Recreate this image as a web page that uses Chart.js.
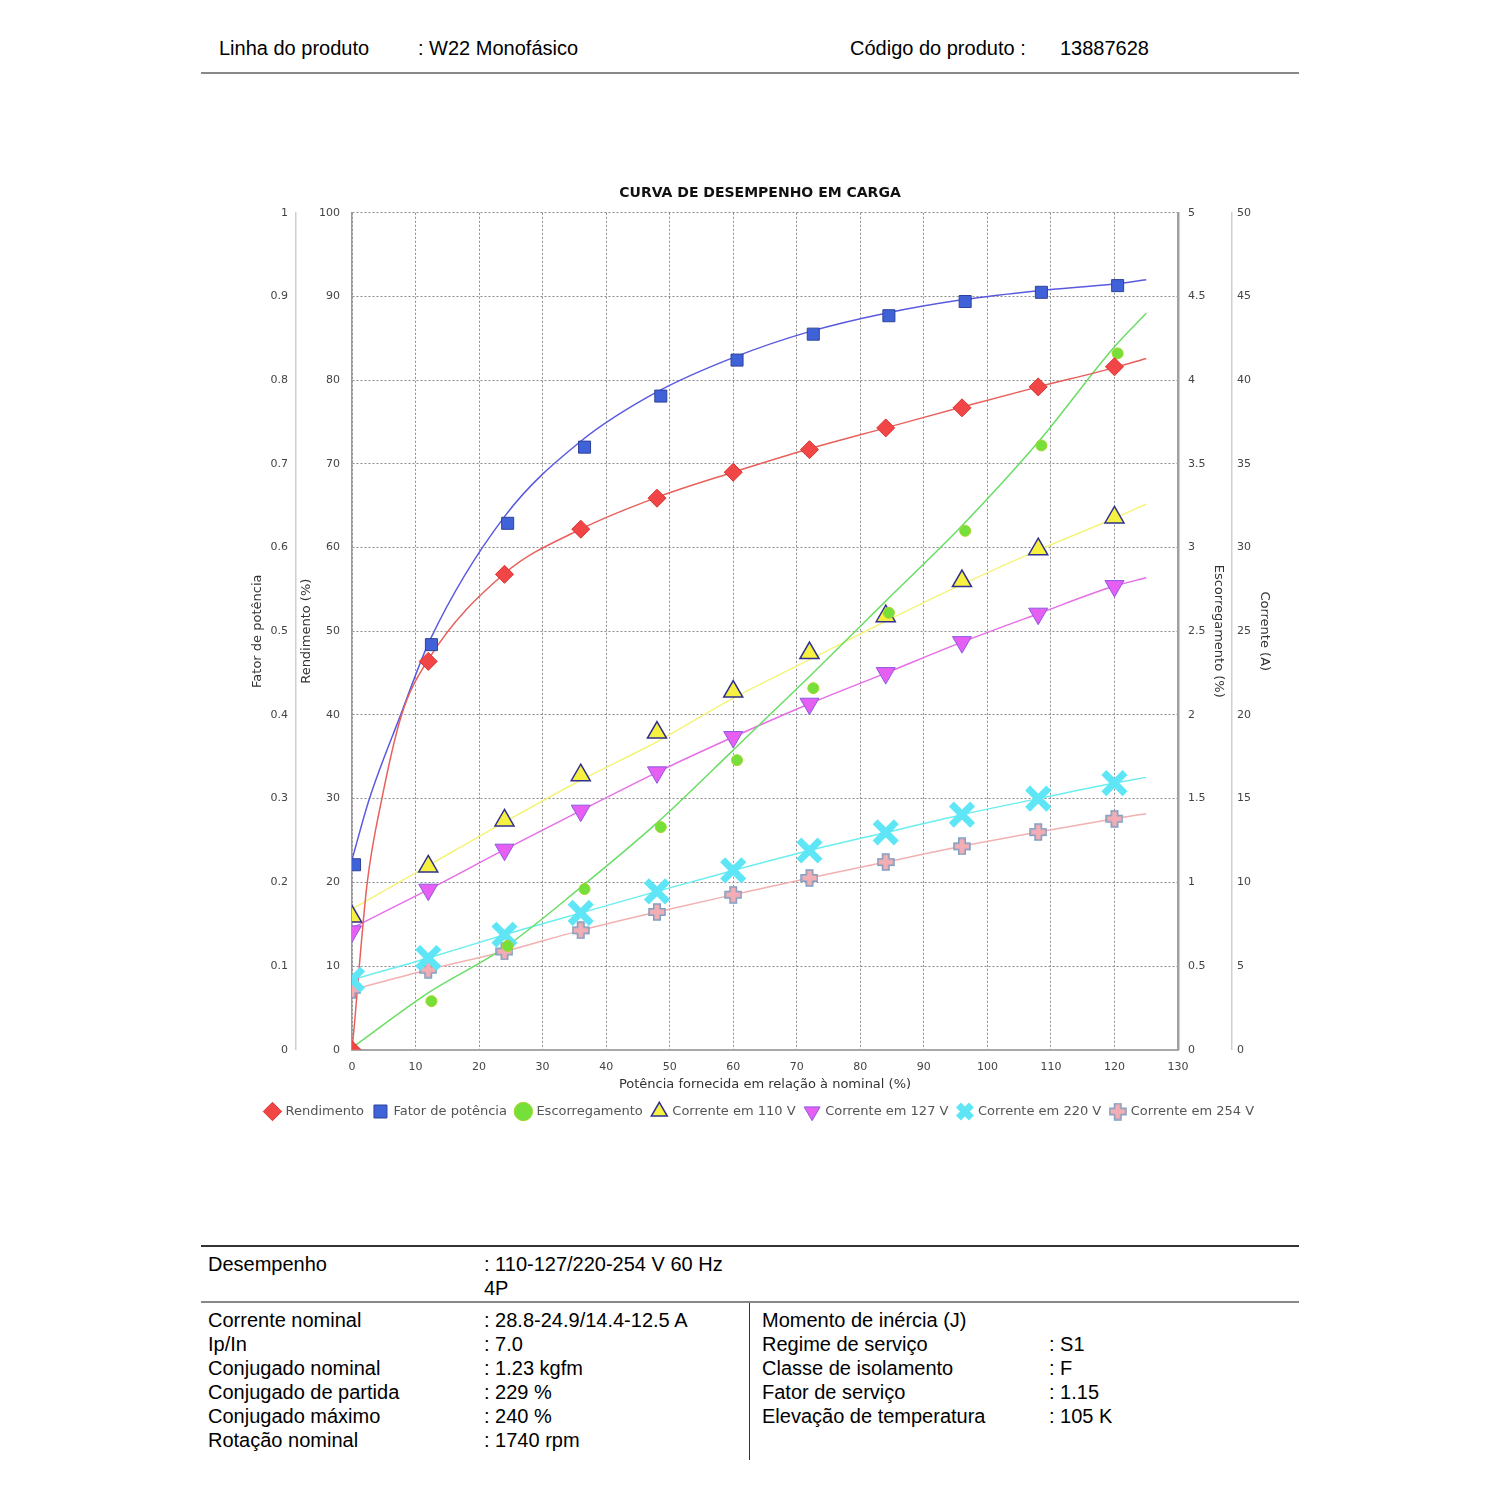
<!DOCTYPE html>
<html lang="pt-BR">
<head>
<meta charset="utf-8">
<title>Curva de desempenho em carga</title>
<script src="https://cdn.jsdelivr.net/npm/chart.js@4.4.1/dist/chart.umd.min.js"></script>
<style>
  body { margin: 0; background: #fff; width: 1500px; height: 1500px; position: relative;
         font-family: "Liberation Sans", Arial, sans-serif; font-size: 20px; color: #000; }
  .t { position: absolute; line-height: 22px; white-space: nowrap; }
  .regua { position: absolute; }
  #caixaGrafico { position: absolute; left: 240px; top: 180px; width: 1040px; height: 948px; }
</style>
</head>
<body>

<!-- Cabeçalho -->
<div class="t" style="left:219px;top:37px">Linha do produto</div>
<div class="t" style="left:418px;top:37px">: W22 Monofásico</div>
<div class="t" style="left:850px;top:37px">Código do produto :</div>
<div class="t" style="left:1060px;top:37px">13887628</div>
<div class="regua" style="left:201px;top:72px;width:1098px;height:2px;background:#888"></div>

<div id="caixaGrafico"><canvas id="grafico"></canvas></div>

<!-- Tabela de dados -->
<div class="regua" style="left:201px;top:1245px;width:1098px;height:2px;background:#333"></div>
<div class="t" style="left:208px;top:1253px">Desempenho</div>
<div class="t" style="left:484px;top:1253px">: 110-127/220-254 V 60 Hz</div>
<div class="t" style="left:484px;top:1277px">4P</div>
<div class="regua" style="left:201px;top:1301px;width:1098px;height:2px;background:#888"></div>
<div class="regua" style="left:749px;top:1303px;width:1px;height:157px;background:#333"></div>

<div class="t" style="left:208px;top:1309px">Corrente nominal</div>
<div class="t" style="left:484px;top:1309px">: 28.8-24.9/14.4-12.5 A</div>
<div class="t" style="left:208px;top:1333px">Ip/In</div>
<div class="t" style="left:484px;top:1333px">: 7.0</div>
<div class="t" style="left:208px;top:1357px">Conjugado nominal</div>
<div class="t" style="left:484px;top:1357px">: 1.23 kgfm</div>
<div class="t" style="left:208px;top:1381px">Conjugado de partida</div>
<div class="t" style="left:484px;top:1381px">: 229 %</div>
<div class="t" style="left:208px;top:1405px">Conjugado máximo</div>
<div class="t" style="left:484px;top:1405px">: 240 %</div>
<div class="t" style="left:208px;top:1429px">Rotação nominal</div>
<div class="t" style="left:484px;top:1429px">: 1740 rpm</div>

<div class="t" style="left:762px;top:1309px">Momento de inércia (J)</div>
<div class="t" style="left:762px;top:1333px">Regime de serviço</div>
<div class="t" style="left:1049px;top:1333px">: S1</div>
<div class="t" style="left:762px;top:1357px">Classe de isolamento</div>
<div class="t" style="left:1049px;top:1357px">: F</div>
<div class="t" style="left:762px;top:1381px">Fator de serviço</div>
<div class="t" style="left:1049px;top:1381px">: 1.15</div>
<div class="t" style="left:762px;top:1405px">Elevação de temperatura</div>
<div class="t" style="left:1049px;top:1405px">: 105 K</div>

<script>
// Carga (%) dos pontos medidos
const carga = [0, 12, 24, 36, 48, 60, 72, 84, 96, 108, 120];
const cargaFator = [0.4, 12.5, 24.5, 36.6, 48.6, 60.6, 72.6, 84.5, 96.5, 108.5, 120.5];
const cargaEscorreg = [12.5, 24.5, 36.6, 48.6, 60.6, 72.6, 84.5, 96.5, 108.5, 120.5];

// Pontos medidos
const rendimento = [0, 46.4, 56.8, 62.2, 65.9, 69.0, 71.7, 74.3, 76.7, 79.2, 81.6];
const fatorPotencia = [0.221, 0.484, 0.629, 0.720, 0.781, 0.824, 0.855, 0.877, 0.894, 0.905, 0.913];
const escorregamento = [0.29, 0.62, 0.96, 1.33, 1.73, 2.16, 2.61, 3.10, 3.61, 4.16];
const corrente110 = [7.96, 10.95, 13.7, 16.4, 18.95, 21.4, 23.7, 25.9, 28.0, 29.9, 31.8];
const corrente127 = [7.07, 9.56, 11.95, 14.28, 16.57, 18.68, 20.67, 22.5, 24.35, 26.05, 27.7];
const corrente220 = [4.18, 5.48, 6.87, 8.17, 9.46, 10.71, 11.9, 12.98, 14.04, 15.0, 15.93];
const corrente254 = [3.58, 4.78, 5.87, 7.13, 8.23, 9.26, 10.26, 11.21, 12.15, 13.0, 13.8];

// Curvas ajustadas
const curvaRendX = [0, 0.45, 1.15, 2.4, 4.7, 7.8, 12, 24, 36, 48, 60, 72, 84, 96, 108, 120, 125];
const curvaRend = [0, 3.6, 10, 20, 30, 40, 46.6, 56.9, 62.2, 66.0, 69.0, 71.8, 74.3, 76.8, 79.2, 81.5, 82.6];
const curvaFatorX = [0, 2.7, 7.55, 12.3, 24, 36, 48, 60, 72, 84, 96, 108, 120, 125];
const curvaFator = [0.227, 0.299, 0.398, 0.49, 0.637, 0.727, 0.786, 0.827, 0.858, 0.88, 0.896, 0.907, 0.915, 0.92];
const curvaX = [0, 12, 24, 36, 48, 60, 72, 84, 96, 108, 120, 125];
const curvaEscorreg = [0.012, 0.34, 0.61, 0.97, 1.355, 1.79, 2.23, 2.68, 3.13, 3.63, 4.2, 4.4];
const curva110 = [8.4, 11.0, 13.6, 16.1, 18.4, 21.0, 23.3, 25.6, 27.8, 29.85, 31.75, 32.6];
const curva127 = [7.27, 9.56, 11.95, 14.28, 16.57, 18.68, 20.67, 22.5, 24.35, 26.05, 27.7, 28.2];
const curva220 = [4.18, 5.48, 6.87, 8.17, 9.46, 10.71, 11.9, 12.98, 14.04, 15.0, 15.93, 16.27];
const curva254 = [3.58, 4.78, 5.87, 7.13, 8.23, 9.26, 10.26, 11.21, 12.15, 13.0, 13.8, 14.1];

const pontos = (xs, ys) => xs.map((x, i) => ({ x: x, y: ys[i] }));

// Símbolo "+" preenchido para a corrente em 254 V
function criarCruz(tam, braco, preenchimento, contorno) {
    const c = document.createElement("canvas");
    c.width = tam; c.height = tam;
    const g = c.getContext("2d");
    const a = (tam - braco) / 2, b = a + braco, m = 1, n = tam - 1;
    g.beginPath();
    g.moveTo(a, m); g.lineTo(b, m); g.lineTo(b, a); g.lineTo(n, a); g.lineTo(n, b);
    g.lineTo(b, b); g.lineTo(b, n); g.lineTo(a, n); g.lineTo(a, b); g.lineTo(m, b);
    g.lineTo(m, a); g.lineTo(a, a); g.closePath();
    g.fillStyle = preenchimento; g.fill();
    g.lineWidth = 1.5; g.strokeStyle = contorno; g.stroke();
    return c;
}
const cruz254 = criarCruz(18, 6.5, "#f2aeb4", "#7f9ec2");

function marcador(rotulo, xs, ys, eixo, estilo) {
    return Object.assign({
        label: rotulo, data: pontos(xs, ys), yAxisID: eixo,
        showLine: false, clip: 0, pointHoverRadius: 0
    }, estilo);
}
function curva(xs, ys, eixo, cor) {
    return {
        label: "", data: pontos(xs, ys), yAxisID: eixo,
        borderColor: cor, borderWidth: 1.5, pointRadius: 0, pointHoverRadius: 0,
        cubicInterpolationMode: "monotone", tension: 0.4, fill: false, clip: 0
    };
}

const fonteEixo = { family: "DejaVu Sans", size: 11 };
const fonteTitulo = { family: "DejaVu Sans", size: 13 };
const umaCasa = v => String(Math.round(v * 10) / 10);

Chart.defaults.font.family = "DejaVu Sans";
Chart.defaults.color = "#444";

new Chart(document.getElementById("grafico"), {
    type: "line",
    data: {
        datasets: [
            marcador("Rendimento", carga, rendimento, "yRend",
                { pointStyle: "rectRot", pointRadius: 9, pointBackgroundColor: "#f24646",
                  pointBorderColor: "#d63232", pointBorderWidth: 1, borderColor: "#f24646", backgroundColor: "#f24646" }),
            marcador("Fator de potência", cargaFator, fatorPotencia, "yFator",
                { pointStyle: "rect", pointRadius: 8.5, pointBackgroundColor: "#4062d8",
                  pointBorderColor: "#2d4399", pointBorderWidth: 1, borderColor: "#4062d8", backgroundColor: "#4062d8" }),
            marcador("Escorregamento", cargaEscorreg, escorregamento, "yEsc",
                { pointStyle: "circle", pointRadius: 5.5, pointBackgroundColor: "#76e03a",
                  pointBorderColor: "#a6d42e", pointBorderWidth: 1, borderColor: "#76e03a", backgroundColor: "#76e03a" }),
            marcador("Corrente em 110 V", carga, corrente110, "yCor",
                { pointStyle: "triangle", pointRadius: 11, pointBackgroundColor: "#f6f040",
                  pointBorderColor: "#30308f", pointBorderWidth: 1.5, borderColor: "#30308f", backgroundColor: "#f6f040" }),
            marcador("Corrente em 127 V", carga, corrente127, "yCor",
                { pointStyle: "triangle", pointRotation: 180, pointRadius: 11, pointBackgroundColor: "#e65ef2",
                  pointBorderColor: "#8a5ae0", pointBorderWidth: 1, borderColor: "#8a5ae0", backgroundColor: "#e65ef2" }),
            marcador("Corrente em 220 V", carga, corrente220, "yCor",
                { pointStyle: "crossRot", pointRadius: 15, pointBorderColor: "#5ee6f6",
                  pointBorderWidth: 7, borderColor: "#5ee6f6", backgroundColor: "#5ee6f6" }),
            marcador("Corrente em 254 V", carga, corrente254, "yCor",
                { pointStyle: cruz254, pointRadius: 9, borderColor: "#7f9ec2", backgroundColor: "#f2aeb4" }),

            curva(curvaRendX, curvaRend, "yRend", "#e8605c"),
            curva(curvaFatorX, curvaFator, "yFator", "#5a5ae0"),
            curva(curvaX, curvaEscorreg, "yEsc", "#6ade64"),
            curva(curvaX, curva110, "yCor", "#f4f47c"),
            curva(curvaX, curva127, "yCor", "#e66ee6"),
            curva(curvaX, curva220, "yCor", "#6aeeee"),
            curva(curvaX, curva254, "yCor", "#f2b0b0")
        ]
    },
    options: {
        responsive: true,
        maintainAspectRatio: false,
        animation: false,
        events: [],
        layout: { padding: 0 },
        plugins: {
            tooltip: { enabled: false },
            title: {
                display: true,
                text: "CURVA DE DESEMPENHO EM CARGA",
                color: "#111",
                font: { family: "DejaVu Sans", size: 14, weight: "bold" },
                padding: { top: 5, bottom: 11 }
            },
            legend: {
                position: "bottom",
                labels: {
                    usePointStyle: true,
                    color: "#555",
                    font: { family: "DejaVu Sans", size: 13 },
                    padding: 10,
                    filter: item => item.text !== ""
                }
            }
        },
        scales: {
            x: {
                type: "linear", min: 0, max: 130,
                ticks: { stepSize: 10, font: fonteEixo, padding: 0 },
                grid: { color: "#8a8a8a", lineWidth: 1, drawTicks: true, tickLength: 11, tickColor: "rgba(0,0,0,0)" },
                border: { color: "#a8a8a8", width: 2, dash: [2, 2] },
                title: { display: true, text: "Potência fornecida em relação à nominal (%)",
                         font: fonteTitulo, color: "#333", padding: { top: 2.5, bottom: 3 } }
            },
            yRend: {
                position: "left", min: 0, max: 100,
                afterFit: s => { s.width = 56; },
                ticks: { stepSize: 10, font: fonteEixo, padding: 12 },
                grid: { color: "#8a8a8a", lineWidth: 1, drawTicks: false },
                border: { color: "#9a9a9a", width: 1.5, dash: [2, 2] },
                title: { display: true, text: "Rendimento (%)", font: fonteTitulo, color: "#333",
                         padding: { top: 3, bottom: 0 } }
            },
            yFator: {
                position: "left", min: 0, max: 1,
                afterFit: s => { s.width = 56; },
                ticks: { stepSize: 0.1, font: fonteEixo, padding: 8, callback: umaCasa },
                grid: { display: false, drawTicks: false },
                border: { color: "#cfcfcf", width: 1.5 },
                title: { display: true, text: "Fator de potência", font: fonteTitulo, color: "#333",
                         padding: { top: 10, bottom: 0 } }
            },
            yEsc: {
                position: "right", min: 0, max: 5,
                afterFit: s => { s.width = 54; },
                ticks: { stepSize: 0.5, font: fonteEixo, padding: 10, callback: umaCasa },
                grid: { display: false, drawTicks: false },
                border: { color: "#a0a0a0", width: 2.5 },
                title: { display: true, text: "Escorregamento (%)", font: fonteTitulo, color: "#333",
                         padding: { top: 6, bottom: 0 } }
            },
            yCor: {
                position: "right", min: 0, max: 50,
                afterFit: s => { s.width = 48; },
                ticks: { stepSize: 5, font: fonteEixo, padding: 5 },
                grid: { display: false, drawTicks: false },
                border: { color: "#cfcfcf", width: 1.5 },
                title: { display: true, text: "Corrente (A)", font: fonteTitulo, color: "#333",
                         padding: { top: 8, bottom: 0 } }
            }
        }
    }
});
</script>
</body>
</html>
